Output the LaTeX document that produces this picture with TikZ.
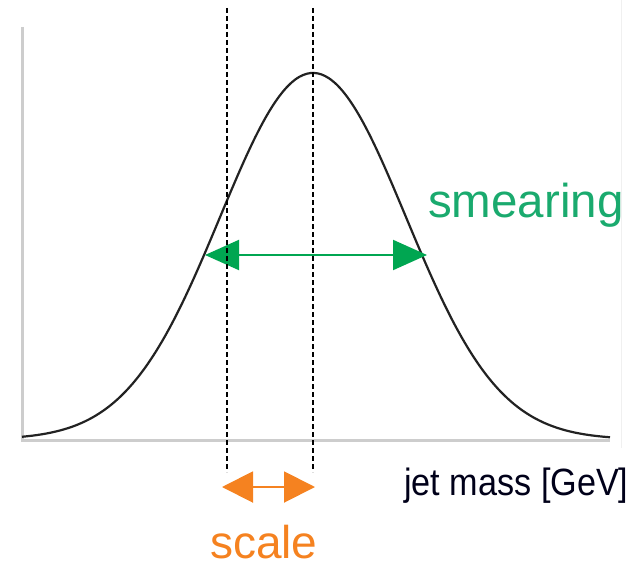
\documentclass[tikz,border=0pt]{standalone}
\usepackage{fontspec}
\setmainfont{Liberation Sans}
\usetikzlibrary{arrows.meta}
\definecolor{smgreen}{RGB}{0,166,81}
\definecolor{smtext}{RGB}{26,170,110}
\definecolor{scorange}{RGB}{245,130,32}
\definecolor{axisgray}{RGB}{205,205,205}
\definecolor{curvecol}{RGB}{34,34,34}
\tikzset{
  axisline/.style={draw=axisgray, line width=3pt},
  curveline/.style={draw=curvecol, line width=2.2pt},
  dashline/.style={draw=black, line width=1.3pt, dash pattern=on 5pt off 3pt},
  greenarrow/.style={draw=smgreen, line width=2pt, {Triangle[length=34pt,width=30pt]}-{Triangle[length=34pt,width=30pt]}, fill=smgreen},
  orangearrow/.style={draw=scorange, line width=2pt, {Triangle[length=31pt,width=31pt]}-{Triangle[length=31pt,width=31pt]}, fill=scorange},
  bigtext/.style={inner sep=0pt, font=\fontsize{47.5}{52}\selectfont},
}
\begin{document}
\begin{tikzpicture}[x=1pt,y=-1pt]
\useasboundingbox (0,0) rectangle (631,564);
% faint slide border
\draw[draw=black!6, line width=1pt] (621,0) -- (621,448);
% axes
\coordinate (ytop) at (22,27);
\coordinate (orig) at (22,440);
\coordinate (xend) at (610,440);
\draw[axisline] (ytop) -- (orig) -- (xend);
% gaussian
\draw[curveline] plot[domain=-3.129:3.194, samples=160, smooth]
  ({313+93*\x},{439.5-366.5*exp(-0.5*\x*\x)});
% smearing arrow
\coordinate (gl) at (205,255);
\coordinate (gr) at (427,255);
\draw[greenarrow] (gl) -- (gr);
% scale arrow
\coordinate (ol) at (222,487);
\coordinate (or) at (315,487);
\draw[orangearrow] (ol) -- (or);
% dashed lines
\coordinate (d1t) at (227,8);
\coordinate (d1b) at (227,472);
\coordinate (d2t) at (313,8);
\coordinate (d2b) at (313,472);
\draw[dashline] (d1t) -- (d1b);
\draw[dashline] (d2t) -- (d2b);
% labels
\node[bigtext, text=smtext, anchor=base west] (smear) at (428,217) {smearing};
\node[inner sep=0pt, text=scorange, anchor=base west, font=\fontsize{46}{50}\selectfont] (scale) at (210,558) {scale};
\node[inner sep=0pt, anchor=base west, text=black!90!blue, font=\fontsize{38}{44}\selectfont] (xlabel) at (404,495) {\scalebox{0.9}[1]{jet mass [GeV]}};
\end{tikzpicture}
\end{document}
